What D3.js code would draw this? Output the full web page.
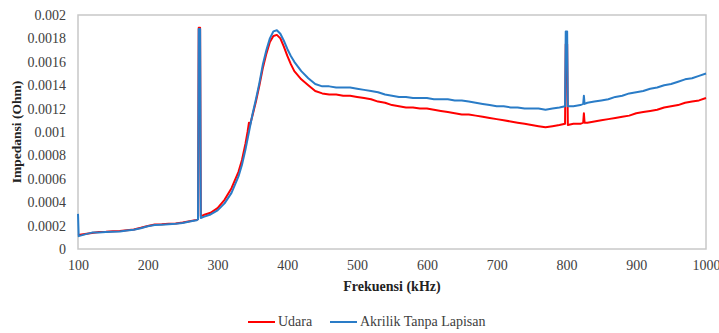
<!DOCTYPE html>
<html><head><meta charset="utf-8">
<script src="https://cdn.jsdelivr.net/npm/d3@7"></script>
<style>
html,body{margin:0;padding:0;background:#fff;}
</style></head>
<body>
<svg id="chart" width="719" height="333"></svg>
<script>
const xTicks = [100,200,300,400,500,600,700,800,900,1000];
const yTicks = [0,0.0002,0.0004,0.0006,0.0008,0.001,0.0012,0.0014,0.0016,0.0018,0.002];
const yTickLabels = ["0","0.0002","0.0004","0.0006","0.0008","0.001","0.0012","0.0014","0.0016","0.0018","0.002"];
const seriesNames = ["Udara","Akrilik Tanpa Lapisan"];
const seriesColors = ["#ff0000","#2a7cc7"];

const freqUdara = [100,110,120,130,140,150,160,170,180,190,200,210,220,230,240,250,260,270,272,273,275,276,280,290,300,310,320,330,335,340,343,345,346,350,355,360,365,370,375,380,385,390,395,400,405,410,420,430,440,450,460,470,480,490,500,510,520,530,540,550,560,570,580,590,600,610,620,630,640,650,660,670,680,690,700,710,720,730,740,750,760,770,780,790,798,799,801,802,810,820,824,825,826,830,840,850,860,870,880,890,900,910,920,930,940,950,960,970,980,990,1000];
const valUdara = [0.00012,0.000128,0.000136,0.000146,0.000147,0.000151,0.000154,0.000161,0.000167,0.000181,0.000197,0.000209,0.000211,0.000216,0.000217,0.000226,0.000237,0.000249,0.000255,0.00189,0.00189,0.00028,0.00029,0.00031,0.00035,0.00042,0.00052,0.00066,0.00076,0.0009,0.001,0.00108,0.00105,0.00114,0.00126,0.0014,0.00155,0.00167,0.00177,0.00182,0.00183,0.0018,0.00173,0.00165,0.00158,0.00152,0.00145,0.0014,0.00135,0.00133,0.00132,0.00132,0.00131,0.00131,0.0013,0.00129,0.00128,0.00126,0.00125,0.00123,0.00122,0.00121,0.00121,0.0012,0.0012,0.00119,0.00118,0.00117,0.00116,0.00115,0.00115,0.00114,0.00113,0.00112,0.00111,0.0011,0.00109,0.00108,0.00107,0.00106,0.00105,0.00104,0.00105,0.00106,0.00107,0.00175,0.00175,0.00106,0.00107,0.00107,0.00108,0.00116,0.00108,0.00108,0.00109,0.0011,0.00111,0.00112,0.00113,0.00114,0.00116,0.00117,0.00118,0.00119,0.00121,0.00122,0.00123,0.00125,0.00126,0.00127,0.00129];

const freqAkrilik = [100,101,110,120,130,140,150,160,170,180,190,200,210,220,230,240,250,260,270,272,273,275,276,280,290,300,310,320,330,335,340,345,350,355,360,365,370,375,380,385,390,395,400,405,410,420,430,440,450,460,470,480,490,500,510,520,530,540,550,560,570,580,590,600,610,620,630,640,650,660,670,680,690,700,710,720,730,740,750,760,770,780,790,798,799,801,802,810,820,824,825,826,830,840,850,860,870,880,890,900,910,920,930,940,950,960,970,980,990,1000];
const valAkrilik = [0.0003,0.00011,0.000125,0.00014,0.000142,0.000145,0.000148,0.00015,0.000158,0.000165,0.000178,0.000195,0.000205,0.000208,0.000212,0.000215,0.000222,0.000235,0.000245,0.000255,0.00188,0.00188,0.000265,0.000275,0.000295,0.00033,0.00039,0.00048,0.00062,0.00072,0.00085,0.001,0.00115,0.00128,0.00142,0.00158,0.0017,0.0018,0.00186,0.00187,0.00184,0.00178,0.00171,0.00165,0.0016,0.00152,0.00146,0.00141,0.00139,0.00139,0.00138,0.00138,0.00138,0.00137,0.00136,0.00135,0.00134,0.00132,0.00131,0.0013,0.0013,0.00129,0.00129,0.00129,0.00128,0.00128,0.00128,0.00127,0.00127,0.00126,0.00125,0.00124,0.00123,0.00122,0.00122,0.00121,0.00121,0.0012,0.0012,0.0012,0.00119,0.0012,0.00121,0.00122,0.00186,0.00186,0.00122,0.00122,0.00123,0.00124,0.00131,0.00124,0.00125,0.00126,0.00127,0.00128,0.0013,0.00131,0.00133,0.00134,0.00135,0.00137,0.00138,0.0014,0.00141,0.00143,0.00145,0.00146,0.00148,0.0015];

const FONT = "'Liberation Serif', 'Times New Roman', serif";
const svg = d3.select("#chart").style("font-family", FONT);
const L = 78, R = 706, T = 15, B = 249;
const x = d3.scaleLinear().domain([100,1000]).range([L,R]);
const y = d3.scaleLinear().domain([0,0.002]).range([B,T]);

svg.append("rect").attr("x",L).attr("y",T).attr("width",R-L).attr("height",B-T)
  .attr("fill","none").attr("stroke","#c8c8c8").attr("stroke-width",1.5);

const yAxis = svg.append("g").attr("transform",`translate(${L},0)`)
  .call(d3.axisLeft(y).tickValues(yTicks).tickSize(0).tickPadding(12)
    .tickFormat((d,i)=>yTickLabels[i]));
yAxis.select(".domain").remove();
yAxis.attr("font-family",null);
yAxis.selectAll("text").style("font-family",FONT).style("font-size","14px").attr("fill","#404040");

const xAxis = svg.append("g").attr("transform",`translate(0,${B})`)
  .call(d3.axisBottom(x).tickValues(xTicks).tickSize(0).tickPadding(11).tickFormat(d3.format("d")));
xAxis.select(".domain").remove();
xAxis.attr("font-family",null);
xAxis.selectAll("text").style("font-family",FONT).style("font-size","14px").attr("fill","#404040");

const line = d3.line().x(d=>x(d[0])).y(d=>y(d[1]));
const data = [d3.zip(freqUdara,valUdara), d3.zip(freqAkrilik,valAkrilik)];
data.forEach((s,i)=>{
  svg.append("path").datum(s).attr("d",line).attr("fill","none")
    .attr("stroke",seriesColors[i]).attr("stroke-width",2).attr("stroke-linejoin","round");
});

svg.append("text").attr("x",(L+R)/2).attr("y",291).attr("text-anchor","middle")
  .style("font-family",FONT).style("font-weight","bold").style("font-size","14px").attr("fill","#222").text("Frekuensi (kHz)");
svg.append("text").attr("transform",`translate(21,${(T+B)/2}) rotate(-90)`).attr("text-anchor","middle")
  .style("font-family",FONT).style("font-weight","bold").style("font-size","13.5px").attr("fill","#222").text("Impedansi (Ohm)");

const legX = [248,330];
seriesNames.forEach((n,i)=>{
  svg.append("line").attr("x1",legX[i]).attr("x2",legX[i]+27).attr("y1",322).attr("y2",322)
    .attr("stroke",seriesColors[i]).attr("stroke-width",2);
  svg.append("text").attr("x",legX[i]+30).attr("y",326).style("font-family",FONT).style("font-size","14px").attr("fill","#404040").text(n);
});
</script>
</body></html>
